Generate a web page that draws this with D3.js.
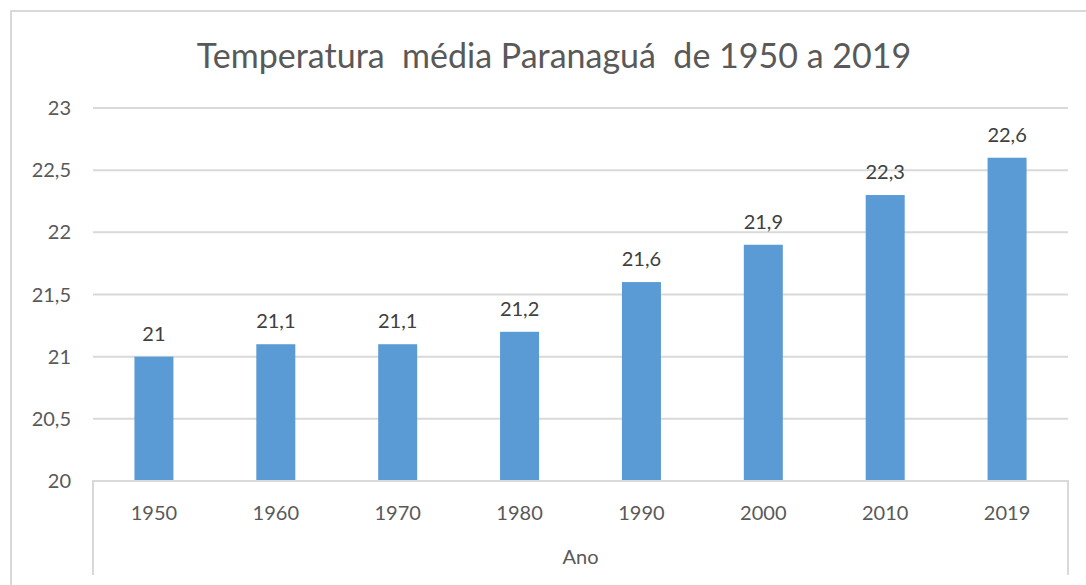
<!DOCTYPE html>
<html>
<head>
<meta charset="utf-8">
<script src="https://cdn.jsdelivr.net/npm/d3@7"></script>
<style>
  html, body { margin: 0; padding: 0; background: #fff; }
  svg { display: block; font-family: Lato, "Open Sans", sans-serif; }
</style>
</head>
<body>
<svg id="chart" width="1086" height="585"></svg>
<script>
// chart data
const years = ["1950", "1960", "1970", "1980", "1990", "2000", "2010", "2019"];
const temps = [21, 21.1, 21.1, 21.2, 21.6, 21.9, 22.3, 22.6];
const yTicks = [20, 20.5, 21, 21.5, 22, 22.5, 23];
const title = "Temperatura  média Paranaguá  de 1950 a 2019";
const xTitle = "Ano";

const svg = d3.select("#chart");
const W = 1086, H = 585;
const plot = { left: 93, right: 1068, top: 108, bottom: 481 };
const fmt = v => String(v).replace(".", ",");

// outer chart frame (only top and left visible)
svg.append("path")
  .attr("d", `M11,${H} V11 H${W}`)
  .attr("fill", "none")
  .attr("stroke", "#d9d9d9")
  .attr("stroke-width", 2);

const x = d3.scaleBand().domain(years).range([plot.left, plot.right]).paddingInner(0.68).paddingOuter(0.34);
const y = d3.scaleLinear().domain([20, 23]).range([plot.bottom, plot.top]);

// gridlines
svg.append("g").selectAll("line")
  .data(yTicks.slice(1))
  .enter().append("line")
  .attr("x1", plot.left).attr("x2", plot.right)
  .attr("y1", d => y(d)).attr("y2", d => y(d))
  .attr("stroke", "#d9d9d9").attr("stroke-width", 2);

// y tick labels
svg.append("g").selectAll("text")
  .data(yTicks)
  .enter().append("text")
  .attr("x", 71).attr("y", d => y(d))
  .attr("dy", "0.35em")
  .attr("text-anchor", "end")
  .style("font-size", "20px")
  .style("fill", "#595959")
  .text(fmt);

// bars
svg.append("g").selectAll("rect")
  .data(temps)
  .enter().append("rect")
  .attr("x", (d, i) => x(years[i]))
  .attr("width", x.bandwidth())
  .attr("y", d => y(d))
  .attr("height", d => y(20) - y(d))
  .attr("fill", "#5b9bd5");

// data labels
svg.append("g").selectAll("text")
  .data(temps)
  .enter().append("text")
  .attr("x", (d, i) => x(years[i]) + x.bandwidth() / 2)
  .attr("y", d => y(d) - 16)
  .attr("text-anchor", "middle")
  .style("font-size", "20px")
  .style("fill", "#404040")
  .text(fmt);

// x axis line with end ticks running down
svg.append("path")
  .attr("d", `M${plot.left},575 V${plot.bottom} H${plot.right} V575`)
  .attr("fill", "none")
  .attr("stroke", "#d9d9d9")
  .attr("stroke-width", 2);

// x tick labels
svg.append("g").selectAll("text")
  .data(years)
  .enter().append("text")
  .attr("x", d => x(d) + x.bandwidth() / 2)
  .attr("y", 520)
  .attr("text-anchor", "middle")
  .style("font-size", "20px")
  .style("fill", "#595959")
  .text(d => d);

// axis title
svg.append("text")
  .attr("x", (plot.left + plot.right) / 2)
  .attr("y", 564)
  .attr("text-anchor", "middle")
  .style("font-size", "20px")
  .style("fill", "#595959")
  .text(xTitle);

// chart title
svg.append("text")
  .attr("x", 554)
  .attr("y", 68)
  .attr("text-anchor", "middle")
  .style("font-size", "34px")
  .style("fill", "#595959")
  .style("white-space", "pre")
  .attr("xml:space", "preserve")
  .text(title);
</script>
</body>
</html>
